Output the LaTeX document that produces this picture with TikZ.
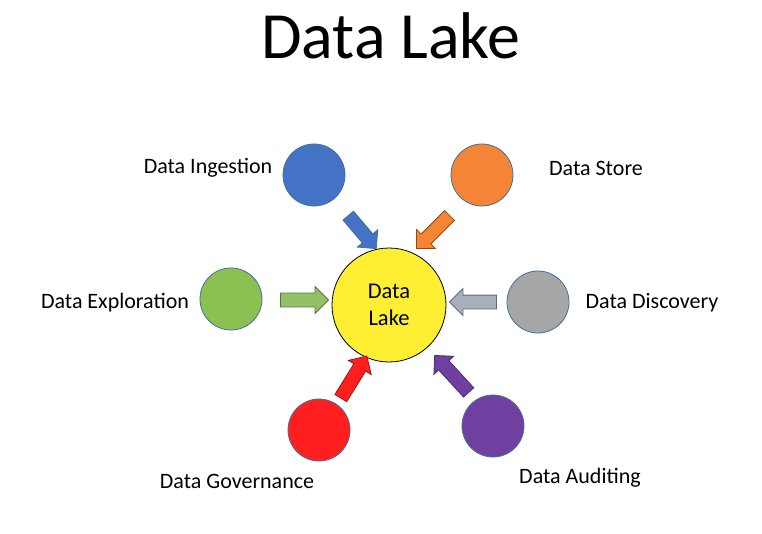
\documentclass[tikz,border=0pt]{standalone}
\usepackage{fontspec}
\setmainfont{Carlito}
\usetikzlibrary{shapes.arrows,calc}
\definecolor{cblue}{HTML}{4472C4}
\definecolor{corange}{HTML}{F58536}
\definecolor{cgreen}{HTML}{8CC152}
\definecolor{cgray}{HTML}{A6A6A6}
\definecolor{cred}{HTML}{FF1F1F}
\definecolor{cpurple}{HTML}{7040A0}
\definecolor{cyellow}{HTML}{FFEF33}
\definecolor{cline}{HTML}{41719C}
\definecolor{agreen}{HTML}{94C06A}
\definecolor{agray}{HTML}{A7B0BA}
\tikzset{
  outer/.style={circle, minimum size=62pt, inner sep=0pt, draw=cline, line width=0.8pt},
  lbl/.style={font=\fontsize{22}{26}\selectfont, inner sep=0pt},
  barrow/.style={single arrow, inner xsep=0pt, inner ysep=6.5pt, outer sep=0pt,
     single arrow head extend=6.5pt, line width=0.8pt, minimum width=26pt},
}
\newcommand\blockarrow[4]{%
  \path let \p1=(#3), \p2=(#4), \n1={atan2(\y2-\y1,\x2-\x1)}, \n2={veclen(\x2-\x1,\y2-\y1)} in
    node[barrow, fill=#1, draw=#2, minimum height=\n2, rotate=\n1] at ($(#3)!0.5!(#4)$) {};}
\begin{document}
\begin{tikzpicture}[x=1pt,y=-1pt]
\useasboundingbox (0,0) rectangle (762,534);
\node[font=\fontsize{66}{70}\selectfont, inner sep=0pt] (title) at (391,36) {Data Lake};
\node[circle, minimum size=114pt, inner sep=0pt, fill=cyellow, draw=black, line width=0.8pt,
  align=center, font=\fontsize{22.5}{27}\selectfont] (lake) at (389,305) {Data\\Lake};
\node[outer, fill=cblue] (ing) at (314,175) {};
\node[outer, fill=corange] (sto) at (482,175) {};
\node[outer, fill=cgreen] (exp) at (231,299) {};
\node[outer, fill=cgray] (dis) at (538,302) {};
\node[outer, fill=cred] (gov) at (319,430) {};
\node[outer, fill=cpurple] (aud) at (493,426) {};
\node[lbl] (ingl) at (208,168) {Data Ingestion};
\node[lbl] (stol) at (596,168) {Data Store};
\node[lbl] (expl) at (115,303) {Data Exploration};
\node[lbl] (disl) at (652,303) {Data Discovery};
\node[lbl] (govl) at (237,481) {Data Governance};
\node[lbl] (audl) at (580,478) {Data Auditing};
\coordinate (a1s) at (346,213); \coordinate (a1e) at (374,246);
\coordinate (a2s) at (452,213); \coordinate (a2e) at (419,246);
\coordinate (a3s) at (277,300); \coordinate (a3e) at (325,300);
\coordinate (a4s) at (500,302); \coordinate (a4e) at (453,302);
\coordinate (a5s) at (339,401); \coordinate (a5e) at (365,359);
\coordinate (a6s) at (471,395); \coordinate (a6e) at (437,358);
\blockarrow{cblue}{cline}{a1s}{a1e}
\blockarrow{corange}{orange!60!black}{a2s}{a2e}
\blockarrow{agreen}{agreen!60!black}{a3s}{a3e}
\blockarrow{agray}{agray!60!black}{a4s}{a4e}
\blockarrow{cred}{cred!60!black}{a5s}{a5e}
\blockarrow{cpurple}{cpurple!70!black}{a6s}{a6e}
\end{tikzpicture}
\end{document}
